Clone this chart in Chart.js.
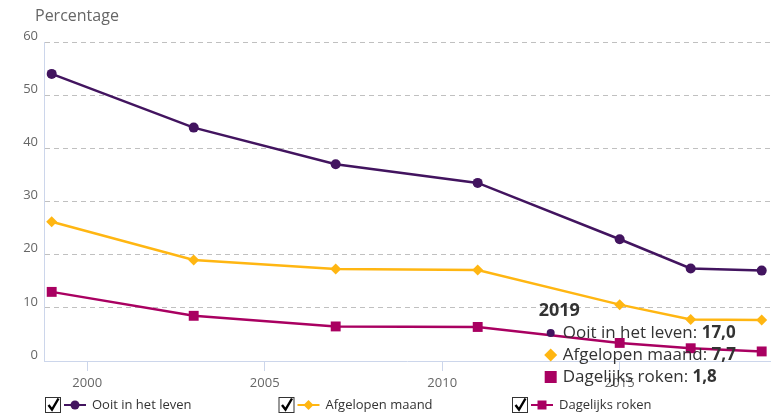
<!DOCTYPE html>
<html><head><meta charset="utf-8">
<script src="https://cdn.jsdelivr.net/npm/chart.js@4"></script>
<style>html,body{margin:0;padding:0;background:#fff}#wrap{width:771px;height:415px;position:relative}</style>
</head><body><div id="wrap"><canvas id="c" width="771" height="415"></canvas></div>
<script>
const years = [1999, 2003, 2007, 2011, 2015, 2017, 2019];
const ooitInHetLeven = [54.0, 43.9, 37.0, 33.5, 22.9, 17.4, 17.0];
const afgelopenMaand = [26.2, 19.0, 17.3, 17.1, 10.6, 7.8, 7.7];
const dagelijksRoken = [13.0, 8.5, 6.5, 6.4, 3.4, 2.4, 1.8];
const seriesLabels = ['Ooit in het leven', 'Afgelopen maand', 'Dagelijks roken'];
const seriesColors = ['#42145f', '#ffb612', '#a90061'];
const seriesStyles = ['circle', 'rectRot', 'rect'];
const xTickYears = [2000, 2005, 2010, 2015];
const yTickValues = [0, 10, 20, 30, 40, 50, 60];
const axisTitle = 'Percentage';
const highlightYear = 2019;

const FONT = '"Open Sans", "Noto Sans", sans-serif';
const toPts = arr => arr.map((v, i) => ({x: years[i], y: v}));
const fmt = v => v.toFixed(1).replace('.', ',');

function drawMarker(ctx, style, color, x, y, r) {
  ctx.save();
  ctx.fillStyle = color;
  ctx.beginPath();
  if (style === 'circle') { ctx.arc(x, y, r, 0, Math.PI * 2); }
  else if (style === 'rectRot') { ctx.moveTo(x - r, y); ctx.lineTo(x, y - r); ctx.lineTo(x + r, y); ctx.lineTo(x, y + r); ctx.closePath(); }
  else { ctx.rect(x - r, y - r, 2 * r, 2 * r); }
  ctx.fill();
  ctx.restore();
}

const extras = {
  id: 'extras',
  afterDraw(chart) {
    const ctx = chart.ctx;
    // axis title
    ctx.save();
    ctx.fillStyle = '#666';
    ctx.font = '16px ' + FONT;
    ctx.textBaseline = 'middle';
    ctx.textAlign = 'left';
    ctx.fillText(axisTitle, 35, 16);
    ctx.restore();

    // fixed (transparent) tooltip for highlighted year
    const idx = years.indexOf(highlightYear);
    const px = chart.scales.x.getPixelForValue(highlightYear);
    const left = px - 223;
    ctx.save();
    ctx.fillStyle = '#333';
    ctx.textBaseline = 'middle';
    ctx.font = 'bold 18px ' + FONT;
    ctx.fillText(String(highlightYear), left, 311);
    const rows = [ooitInHetLeven, afgelopenMaand, dagelijksRoken];
    const markerSize = [4, 6.5, 6];
    rows.forEach((arr, i) => {
      const y = 333 + i * 22;
      drawMarker(ctx, seriesStyles[i], seriesColors[i], left + 12, y, markerSize[i]);
      ctx.fillStyle = '#333';
      ctx.font = '17px ' + FONT;
      const label = seriesLabels[i] + ': ';
      ctx.fillText(label, left + 24, y);
      const w = ctx.measureText(label).width;
      ctx.font = 'bold 17px ' + FONT;
      ctx.fillText(fmt(arr[idx]), left + 24 + w, y);
    });
    ctx.restore();

    // legend with checkboxes
    ctx.save();
    const ly = 405;
    const legMarker = [4.5, 5, 4.5];
    seriesLabels.forEach((lab, i) => {
      const x0 = 45 + i * 233.5;
      ctx.strokeStyle = '#333';
      ctx.lineWidth = 1;
      ctx.fillStyle = '#fff';
      ctx.fillRect(x0 + 0.5, ly - 7.5, 15, 15);
      ctx.strokeRect(x0 + 0.5, ly - 7.5, 15, 15);
      ctx.strokeStyle = '#000';
      ctx.lineWidth = 2.4;
      ctx.beginPath();
      ctx.moveTo(x0 + 3.5, ly);
      ctx.lineTo(x0 + 7, ly + 4.5);
      ctx.lineTo(x0 + 13.5, ly - 6.5);
      ctx.stroke();
      ctx.strokeStyle = seriesColors[i];
      ctx.lineWidth = 2;
      ctx.beginPath();
      ctx.moveTo(x0 + 19, ly);
      ctx.lineTo(x0 + 41, ly);
      ctx.stroke();
      drawMarker(ctx, seriesStyles[i], seriesColors[i], x0 + 30, ly, legMarker[i]);
      ctx.fillStyle = '#333';
      ctx.font = '13px ' + FONT;
      ctx.textBaseline = 'middle';
      ctx.fillText(lab, x0 + 47, ly);
    });
    ctx.restore();
  }
};

const pointRadius = [5, 5.5, 7];
new Chart(document.getElementById('c'), {
  type: 'line',
  data: {
    datasets: [ooitInHetLeven, afgelopenMaand, dagelijksRoken].map((arr, i) => ({
      label: seriesLabels[i],
      data: toPts(arr),
      borderColor: seriesColors[i],
      backgroundColor: seriesColors[i],
      pointBackgroundColor: seriesColors[i],
      pointBorderColor: seriesColors[i],
      pointBorderWidth: 0,
      pointStyle: seriesStyles[i],
      pointRadius: pointRadius[i],
      borderWidth: 2.5,
      tension: 0,
      clip: 10
    }))
  },
  options: {
    responsive: false,
    animation: false,
    events: [],
    layout: {autoPadding: false, padding: {left: 0, right: 1, top: 42, bottom: 24}},
    plugins: {legend: {display: false}, tooltip: {enabled: false}, title: {display: false}},
    scales: {
      x: {
        type: 'linear', min: 1998.783, max: 2019.234,
        afterBuildTicks: s => { s.ticks = xTickYears.map(v => ({value: v})); },
        afterFit: s => { s.height = 30; s.paddingLeft = 0; s.paddingRight = 0; },
        grid: {drawOnChartArea: false, drawTicks: true, tickLength: 10, color: '#ccd6eb'},
        border: {color: '#ccd6eb', width: 1},
        ticks: {padding: 4, color: '#666', font: {family: FONT, size: 13}, callback: v => String(v), maxRotation: 0}
      },
      y: {
        min: 0, max: 60,
        afterBuildTicks: s => { s.ticks = yTickValues.map(v => ({value: v})); },
        afterFit: s => { s.width = 44; s.paddingTop = 0; s.paddingBottom = 0; },
        grid: {drawTicks: false, color: c => (c.tick && c.tick.value === 0) ? 'rgba(0,0,0,0)' : '#c0c0c0'},
        border: {color: '#ccd6eb', width: 1, dash: [5, 4]},
        ticks: {padding: 6, labelOffset: -6, color: '#666', font: {family: FONT, size: 13}}
      }
    }
  },
  plugins: [extras]
});
</script></body></html>
